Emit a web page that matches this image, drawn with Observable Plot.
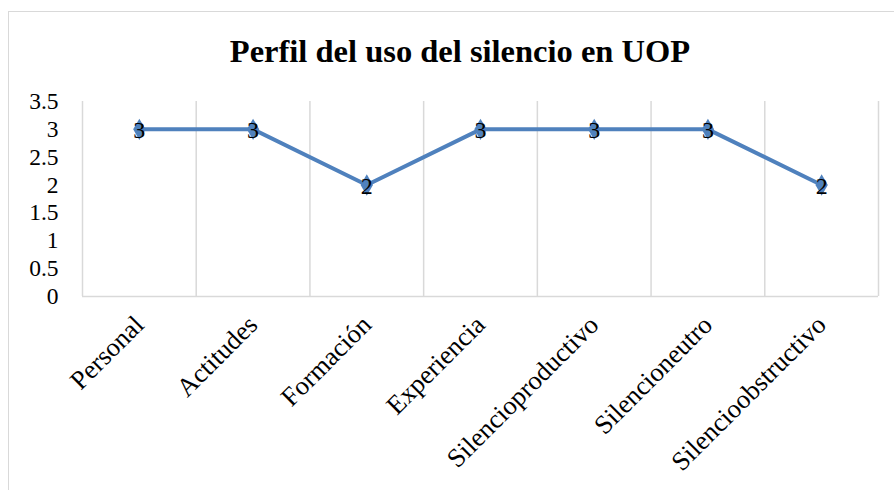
<!DOCTYPE html>
<html>
<head>
<meta charset="utf-8">
<script src="https://cdn.jsdelivr.net/npm/d3@7"></script>
<script src="https://cdn.jsdelivr.net/npm/@observablehq/plot@0.6"></script>
<style>
  html, body { margin: 0; padding: 0; background: #fff; overflow: hidden; }
  body { width: 894px; height: 490px; position: relative; font-family: "Liberation Serif", "Times New Roman", serif; }
  #frame { position: absolute; left: 8px; top: 11px; width: 900px; height: 500px; border-left: 1.5px solid #d9d9d9; border-top: 1.5px solid #d9d9d9; }
  #title { position: absolute; left: 13px; width: 894px; top: 31px; text-align: center; font-weight: bold; font-size: 32.5px; line-height: 40px; color: #000; }
  #chart { position: absolute; left: 0; top: 80px; }
</style>
</head>
<body>
<div id="frame"></div>
<div id="title">Perfil del uso del silencio en UOP</div>
<div id="chart"></div>
<script>
const categories = ["Personal", "Actitudes", "Formación", "Experiencia", "Silencioproductivo", "Silencioneutro", "Silencioobstructivo"];
const values = [3, 3, 2, 3, 3, 3, 2];
const yTicks = [0, 0.5, 1, 1.5, 2, 2.5, 3, 3.5];

const data = categories.map((c, i) => ({pos: i + 0.5, name: c, value: values[i]}));
const boundaries = d3.range(categories.length + 1);

const chart = Plot.plot({
  width: 894,
  height: 410,
  marginLeft: 82,
  marginRight: 16,
  marginTop: 21,
  marginBottom: 194,
  style: {fontFamily: "Liberation Serif, Times New Roman, serif", background: "transparent", color: "#000"},
  x: {type: "linear", domain: [0, categories.length], axis: null},
  y: {domain: [0, 3.5], axis: null},
  marks: [
    Plot.ruleX(boundaries, {x: d => d, stroke: "#d9d9d9", strokeWidth: 1.5}),
    Plot.ruleY([0], {stroke: "#d9d9d9", strokeWidth: 1.5}),
    Plot.axisY({ticks: yTicks, tickSize: 0, tickPadding: 24, tickFormat: d => String(d), fontSize: 23.5, label: null}),
    Plot.axisX({ticks: data.map(d => d.pos), tickFormat: p => categories[Math.floor(p)], tickSize: 0, tickPadding: 24, tickRotate: -45, fontSize: 26.5, label: null}),
    Plot.line(data, {x: "pos", y: "value", stroke: "#4f81bd", strokeWidth: 4}),
    Plot.dot(data, {x: "pos", y: "value", symbol: "diamond", r: 6.5, fill: "#4f81bd", stroke: "none"}),
    Plot.text(data, {x: "pos", y: "value", text: d => String(d.value), fontSize: 24, fill: "#000", dy: 1})
  ]
});
document.getElementById("chart").appendChild(chart);
</script>
</body>
</html>
